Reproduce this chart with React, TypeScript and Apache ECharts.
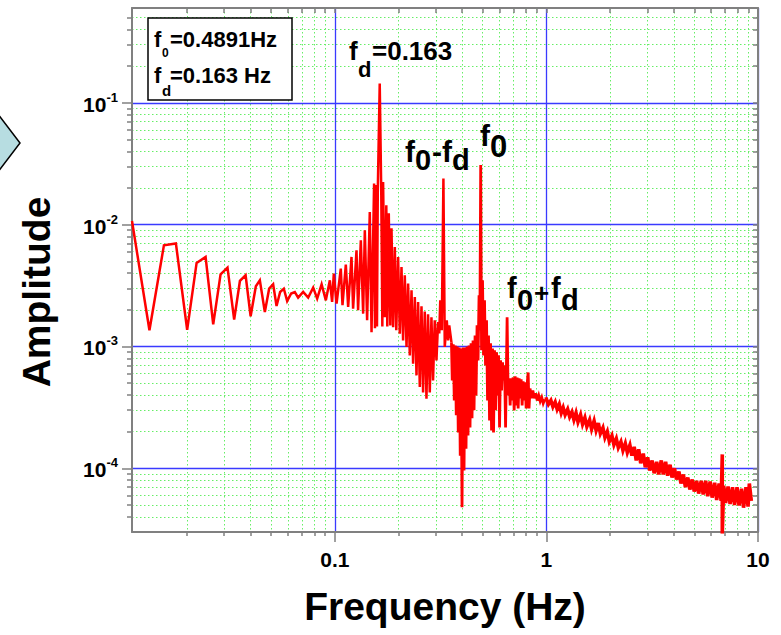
import React, { useEffect, useRef } from 'react';
import * as echarts from 'echarts';

// ---- axis ticks ----
const xMajor = [0.1, 1, 10];
const xMinor = [0.02, 0.03, 0.04, 0.05, 0.06, 0.07, 0.08, 0.09, 0.2, 0.3, 0.4, 0.5, 0.6, 0.7, 0.8, 0.9, 2, 3, 4, 5, 6, 7, 8, 9];
const yMajor = [1e-4, 1e-3, 1e-2, 1e-1];
const yMinor = [4e-5, 5e-5, 6e-5, 7e-5, 8e-5, 9e-5, 2e-4, 3e-4, 4e-4, 5e-4, 6e-4, 7e-4, 8e-4, 9e-4, 2e-3, 3e-3, 4e-3, 5e-3, 6e-3, 7e-3, 8e-3, 9e-3, 2e-2, 3e-2, 4e-2, 5e-2, 6e-2, 7e-2, 8e-2, 9e-2, 0.2, 0.3, 0.4, 0.5];

// ---- spectrum: low-frequency part ----
const lowFreq = [0.0110, 0.0133, 0.01557, 0.01774, 0.02005, 0.02222, 0.0245, 0.02662, 0.02884, 0.0311, 0.03344, 0.0356, 0.03787, 0.040, 0.04234, 0.04422, 0.04669, 0.04893, 0.05111, 0.05303, 0.05515, 0.05741, 0.05953, 0.06217, 0.06471, 0.06709, 0.07085, 0.07482, 0.07901, 0.08252, 0.0866, 0.09068, 0.09472, 0.09709];
const lowAmp = [0.0107, 0.00136, 0.00677, 0.0070, 0.00137, 0.00485, 0.00543, 0.00152, 0.00391, 0.00444, 0.00166, 0.00345, 0.00384, 0.00177, 0.00312, 0.00349, 0.00192, 0.00298, 0.00324, 0.00215, 0.0028, 0.00298, 0.00236, 0.00272, 0.0028, 0.00252, 0.0028, 0.00252, 0.00304, 0.00247, 0.00324, 0.00239, 0.00349, 0.00232];

// ---- comb around f_d and f0-f_d ----
const combFreq = [0.0989, 0.1019, 0.1067, 0.1087, 0.1127, 0.1156, 0.1199, 0.1220, 0.1266, 0.1288, 0.1327, 0.1361, 0.1386, 0.1421, 0.1463, 0.1491, 0.1533, 0.1548, 0.1565, 0.1582, 0.1596, 0.163, 0.1658, 0.1677, 0.1691, 0.1723, 0.1751, 0.1770, 0.1799, 0.1829, 0.1853, 0.1886, 0.1921, 0.1952, 0.1991, 0.2028, 0.2066, 0.2102, 0.2141, 0.2182, 0.2220, 0.2261, 0.2304, 0.2344, 0.2388, 0.2432, 0.2475, 0.2521, 0.2568, 0.2613, 0.2661, 0.2711, 0.2758, 0.2810, 0.2862, 0.2912, 0.2967, 0.3022, 0.3076, 0.3116, 0.3150, 0.3202, 0.326, 0.3308, 0.3381, 0.3429, 0.3474, 0.3558];
const combAmp = [3.96e-3, 2.25e-3, 4.36e-3, 2.18e-3, 4.70e-3, 2.11e-3, 5.43e-3, 2.04e-3, 6.16e-3, 1.98e-3, 7.44e-3, 1.86e-3, 9.0e-3, 1.64e-3, 1.27e-2, 1.31e-3, 2.18e-2, 1.41e-3, 2.11e-2, 1.46e-3, 1.92e-2, 0.144, 1.74e-2, 1.46e-3, 2.24e-2, 1.74e-3, 1.44e-2, 1.46e-3, 1.24e-2, 1.49e-3, 9.34e-3, 1.44e-3, 6.56e-3, 1.36e-3, 5.43e-3, 1.27e-3, 4.49e-3, 1.12e-3, 3.84e-3, 9.9e-4, 3.28e-3, 8.45e-4, 2.89e-3, 7.22e-4, 2.55e-3, 5.79e-4, 2.32e-3, 4.64e-4, 2.14e-3, 4.2e-4, 1.94e-3, 3.72e-4, 1.84e-3, 4.2e-4, 1.74e-3, 5.27e-4, 1.64e-3, 7.69e-4, 1.59e-3, 1.28e-3, 2.39e-3, 1.36e-3, 2.39e-2, 9.9e-4, 1.64e-3, 1.12e-3, 1.49e-3, 1.08e-3];

// ---- dense band around f0 and f0+f_d ----
const bandFreq = [0.3589, 0.3629, 0.3668, 0.3708, 0.3749, 0.3790, 0.3831, 0.3873, 0.3915, 0.3949, 0.3992, 0.4036, 0.4080, 0.4125, 0.4170, 0.4215, 0.4261, 0.4308, 0.4355, 0.4403, 0.4451, 0.4500, 0.4550, 0.4600, 0.4650, 0.4701, 0.4752, 0.4804, 0.4846, 0.4891, 0.4935, 0.4989, 0.5044, 0.5099, 0.5155, 0.5212, 0.5269, 0.5326, 0.5385, 0.5445, 0.5504, 0.5564, 0.5625, 0.5686, 0.5749, 0.5812, 0.5875, 0.5940, 0.6005, 0.6071, 0.6137, 0.6204, 0.6273, 0.6341, 0.6412, 0.652, 0.6594, 0.6666, 0.6740, 0.6813, 0.6887, 0.6962, 0.7039, 0.7116, 0.7194, 0.7272, 0.7352, 0.7432, 0.7513, 0.7596, 0.7678, 0.7762, 0.7848, 0.7933, 0.8020, 0.8109, 0.8197, 0.8277, 0.8368, 0.8487, 0.8627, 0.8759, 0.8903, 0.9047, 0.9197, 0.9348, 0.9502, 0.9658, 0.9817];
const bandAmp = [5.27e-4, 1.04e-3, 3.6e-4, 1.02e-3, 2.72e-4, 1.0e-3, 1.97e-4, 9.8e-4, 1.27e-4, 9.6e-4, 4.79e-5, 9.8e-4, 9.6e-5, 9.8e-4, 1.45e-4, 1.0e-3, 1.86e-4, 1.02e-3, 2.16e-4, 1.06e-3, 2.57e-4, 1.12e-3, 2.99e-4, 1.23e-3, 3.96e-4, 1.49e-3, 7.69e-4, 2.63e-3, 1.36e-3, 3.08e-2, 9.29e-4, 3.49e-3, 8.45e-4, 2.39e-3, 6.99e-4, 1.64e-3, 3.6e-4, 1.23e-3, 2.47e-4, 1.06e-3, 2.04e-4, 9.6e-4, 1.97e-4, 9.29e-4, 2.99e-4, 8.94e-4, 3.96e-4, 8.45e-4, 2.16e-4, 7.69e-4, 4.36e-4, 7.4e-4, 5.27e-4, 6.99e-4, 2.16e-4, 1.74e-3, 3.96e-4, 5.47e-4, 3.28e-4, 5.47e-4, 3.6e-4, 5.57e-4, 2.99e-4, 5.68e-4, 3.28e-4, 5.57e-4, 3.1e-4, 5.47e-4, 3.75e-4, 5.37e-4, 3.28e-4, 5.17e-4, 3.6e-4, 5.07e-4, 3.1e-4, 4.88e-4, 6.12e-4, 3.1e-4, 4.52e-4, 3.75e-4, 4.36e-4, 3.75e-4, 4.12e-4, 3.6e-4, 3.96e-4, 3.54e-4, 3.82e-4, 3.41e-4, 3.68e-4];

// ---- high-frequency tail ----
const tailFreq = [1.00, 1.022, 1.05, 1.073, 1.10, 1.124, 1.15, 1.175, 1.20, 1.226, 1.26, 1.288, 1.32, 1.349, 1.38, 1.41, 1.45, 1.482, 1.52, 1.553, 1.60, 1.635, 1.68, 1.717, 1.76, 1.799, 1.85, 1.891, 1.94, 1.983, 2.04, 2.085, 2.14, 2.187, 2.25, 2.30, 2.36, 2.412, 2.48, 2.535, 2.60, 2.657, 2.73, 2.79, 2.87, 2.933, 3.01, 3.076, 3.16, 3.23, 3.32, 3.393, 3.49, 3.567, 3.66, 3.741, 3.84, 3.924, 4.03, 4.119, 4.23, 4.323, 4.44, 4.538, 4.66, 4.763, 4.89, 4.998, 5.13, 5.243, 5.39, 5.509, 5.66, 5.785, 5.94, 6.071, 6.24, 6.377, 6.55, 6.694, 6.78, 6.78, 6.88, 7.031, 7.22, 7.379, 7.58, 7.747, 7.96, 8.135, 8.36, 8.544, 8.78, 8.973, 9.10, 9.30];
const tailAmp = [3.7e-4, 3.35e-4, 3.6e-4, 3.2e-4, 3.5e-4, 3.05e-4, 3.35e-4, 2.85e-4, 3.15e-4, 2.75e-4, 3.05e-4, 2.65e-4, 2.9e-4, 2.5e-4, 2.85e-4, 2.4e-4, 2.75e-4, 2.3e-4, 2.6e-4, 2.2e-4, 2.5e-4, 2.1e-4, 2.45e-4, 2.05e-4, 2.35e-4, 1.93e-4, 2.15e-4, 1.79e-4, 2.0e-4, 1.66e-4, 1.85e-4, 1.56e-4, 1.75e-4, 1.48e-4, 1.65e-4, 1.40e-4, 1.6e-4, 1.35e-4, 1.55e-4, 1.27e-4, 1.5e-4, 1.16e-4, 1.43e-4, 1.1e-4, 1.32e-4, 1.02e-4, 1.23e-4, 9.6e-5, 1.16e-4, 9.1e-5, 1.13e-4, 8.9e-5, 1.16e-4, 8.9e-5, 1.13e-4, 8.7e-5, 1.07e-4, 8.4e-5, 1.0e-4, 8.1e-5, 9.4e-5, 7.5e-5, 8.9e-5, 7.0e-5, 8.4e-5, 6.7e-5, 8.1e-5, 6.45e-5, 7.9e-5, 6.2e-5, 7.9e-5, 6.1e-5, 7.9e-5, 5.9e-5, 7.8e-5, 5.75e-5, 7.6e-5, 5.5e-5, 7.5e-5, 5.4e-5, 1.3e-4, 2.9e-5, 7.2e-5, 5.2e-5, 7.1e-5, 5.1e-5, 7.0e-5, 5.0e-5, 7.0e-5, 4.95e-5, 6.8e-5, 4.75e-5, 7.0e-5, 4.85e-5, 7.5e-5, 5.4e-5];

const FONT = "'Liberation Sans', Arial, Helvetica, sans-serif";
const GRAY = '#808080';
const BLUE = '#3a3aff';
const GREEN = '#66ee66';

function pairs(f: number[], a: number[]) {
  return f.map((v, i) => [v, a[i]]);
}

// text helper: position by baseline
function t(text: string, x: number, baseline: number, fs: number, extra: any = {}) {
  return {
    type: 'text',
    x,
    y: baseline - 0.347 * fs,
    z: 100,
    style: {
      text,
      font: `bold ${fs}px ${FONT}`,
      fill: '#000',
      align: 'left',
      verticalAlign: 'middle',
      ...extra,
    },
  };
}

export default function App() {
  const ref = useRef<HTMLDivElement>(null);
  useEffect(() => {
    if (!ref.current) return;
    const chart = echarts.init(ref.current, null, { renderer: 'svg' });
    const lowData = [...pairs(lowFreq, lowAmp), ...pairs(combFreq, combAmp)];
    const bandData = [
      [combFreq[combFreq.length - 1], combAmp[combAmp.length - 1]],
      ...pairs(bandFreq, bandAmp),
    ];
    const tailData = [
      [bandFreq[bandFreq.length - 1], bandAmp[bandAmp.length - 1]],
      ...pairs(tailFreq, tailAmp),
    ];
    const xBase = { type: 'log', logBase: 10, min: 0.011, max: 10, gridIndex: 0 };
    const yBase = { type: 'log', logBase: 10, min: 3e-5, max: 0.6, gridIndex: 0 };
    const expLabel = (v: number) => {
      const e = Math.round(Math.log10(v));
      return `{b|10}{s|${e}}`;
    };
    const lineSeries = (data: number[][], width: number) => ({
      type: 'line',
      xAxisIndex: 0,
      yAxisIndex: 0,
      data,
      showSymbol: false,
      symbol: 'none',
      clip: true,
      z: 5,
      lineStyle: { color: '#ff0000', width, join: 'miter' },
    });
    chart.setOption({
      animation: false,
      backgroundColor: '#fff',
      grid: { left: 132, right: 23, top: 8, bottom: 103, containLabel: false },
      xAxis: [
        {
          ...xBase,
          position: 'bottom',
          z: 3,
          axisLine: { show: true, lineStyle: { color: GRAY, width: 2 } },
          axisTick: { show: true, inside: false, length: 10, customValues: xMajor, lineStyle: { color: GRAY, width: 1.5 } },
          axisLabel: {
            show: true, customValues: xMajor, margin: 17,
            formatter: (v: number) => (v >= 1 ? String(Math.round(v)) : String(v)),
            color: '#000', fontWeight: 'bold', fontSize: 21, fontFamily: FONT,
          },
          splitLine: { show: true, lineStyle: { color: BLUE, width: 1.3 } },
        },
        {
          ...xBase,
          position: 'bottom',
          z: 2,
          axisLine: { show: false },
          axisTick: { show: true, inside: false, length: 4, customValues: xMinor, lineStyle: { color: GRAY, width: 1.5 } },
          axisLabel: { show: false },
          splitLine: { show: true, lineStyle: { color: GREEN, width: 1, type: [1.5, 2.5] } },
        },
        {
          ...xBase,
          position: 'top',
          z: 3,
          axisLine: { show: true, lineStyle: { color: GRAY, width: 2 } },
          axisTick: { show: true, inside: true, length: 5, customValues: [...xMinor, ...xMajor], lineStyle: { color: GRAY, width: 1.5 } },
          axisLabel: { show: false },
          splitLine: { show: false },
        },
      ],
      yAxis: [
        {
          ...yBase,
          position: 'left',
          z: 3,
          axisLine: { show: true, lineStyle: { color: GRAY, width: 2 } },
          axisTick: { show: true, inside: false, length: 10, customValues: yMajor, lineStyle: { color: GRAY, width: 1.5 } },
          axisLabel: {
            show: true, customValues: yMajor, margin: 14,
            formatter: expLabel,
            rich: {
              b: { fontSize: 21, fontWeight: 'bold', fontFamily: FONT, color: '#000', lineHeight: 24, verticalAlign: 'bottom' },
              s: { fontSize: 13, fontWeight: 'bold', fontFamily: FONT, color: '#000', lineHeight: 12, verticalAlign: 'top' },
            },
          },
          splitLine: { show: true, lineStyle: { color: BLUE, width: 1.3 } },
        },
        {
          ...yBase,
          position: 'left',
          z: 2,
          axisLine: { show: false },
          axisTick: { show: true, inside: false, length: 5, customValues: yMinor, lineStyle: { color: GRAY, width: 1.5 } },
          axisLabel: { show: false },
          splitLine: { show: true, lineStyle: { color: GREEN, width: 1, type: [1.5, 2.5] } },
        },
        {
          ...yBase,
          position: 'right',
          z: 3,
          axisLine: { show: true, lineStyle: { color: GRAY, width: 2 } },
          axisTick: { show: true, inside: true, length: 5, customValues: [...yMinor, ...yMajor], lineStyle: { color: GRAY, width: 1.5 } },
          axisLabel: { show: false },
          splitLine: { show: false },
        },
      ],
      series: [
        lineSeries(lowData, 2.5),
        lineSeries(bandData, 2.8),
        lineSeries(tailData, 3.6),
      ],
      graphic: [
        // decorative arrow tip at left edge
        {
          type: 'polygon',
          z: 100,
          shape: { points: [[-6, 109], [20, 143], [-6, 177]] },
          style: { fill: '#b7dde1', stroke: '#000', lineWidth: 1.5 },
        },
        // info box
        {
          type: 'rect',
          z: 99,
          shape: { x: 148, y: 18, width: 144, height: 82 },
          style: { fill: '#fff', stroke: '#000', lineWidth: 1.5 },
        },
        t('f', 154, 47, 22),
        t('0', 162, 57, 12),
        t('=0.4891Hz', 170, 47, 22),
        t('f', 154, 83, 22),
        t('d', 162, 96, 15),
        t('=0.163 Hz', 170, 83, 22),
        // f_d label
        t('f', 349, 60, 26),
        t('d', 358, 77, 22),
        t('=0.163', 372, 60, 26),
        // f0 - fd
        t('f', 405, 162, 30),
        t('0', 415, 170, 29),
        t('-', 432, 162, 30),
        t('f', 442, 162, 30),
        t('d', 452, 170, 29),
        // f0
        t('f', 480, 146, 30),
        t('0', 490, 157, 31),
        // f0 + fd
        t('f', 507, 298, 29),
        t('0', 517, 310, 29),
        t('+', 534, 302, 26),
        t('f', 551, 298, 29),
        t('d', 561, 310, 29),
        // axis titles
        {
          type: 'text', z: 100, x: 445, y: 606,
          style: { text: 'Frequency (Hz)', font: `bold 39px ${FONT}`, fill: '#000', align: 'center', verticalAlign: 'middle' },
        },
        {
          type: 'text', z: 100, x: 36, y: 292, rotation: Math.PI / 2,
          style: { text: 'Amplitude', font: `bold 39px ${FONT}`, fill: '#000', align: 'center', verticalAlign: 'middle' },
        },
      ],
    });
    return () => chart.dispose();
  }, []);
  return <div ref={ref} style={{ position: 'absolute', left: 0, top: 0, width: 781, height: 635 }} />;
}
